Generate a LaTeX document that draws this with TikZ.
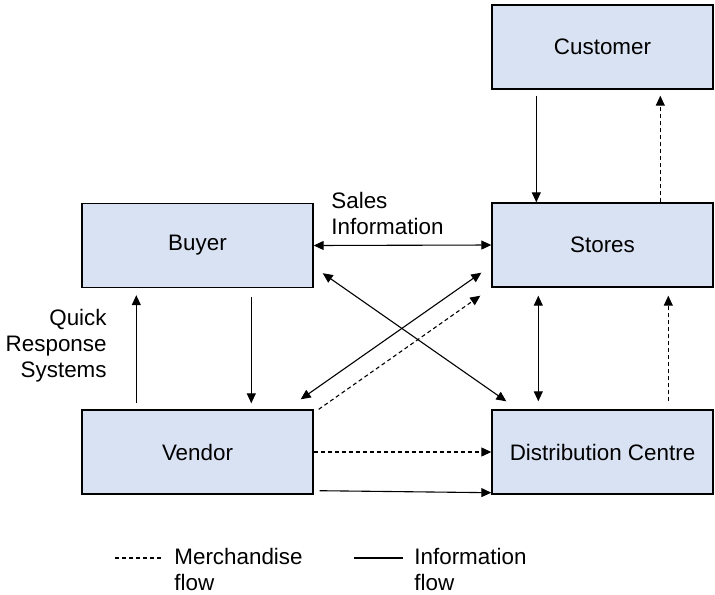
\documentclass[tikz,border=0pt]{standalone}
\usepackage{fontspec}
\setmainfont{Liberation Sans}
\usetikzlibrary{arrows.meta,calc}

\definecolor{boxblue}{HTML}{D9E2F3}

\begin{document}
\begin{tikzpicture}[
    x=0.5pt, y=-0.5pt,
    font=\fontsize{11.2}{13}\selectfont,
    entbox/.style={draw=black, fill=boxblue, line width=0.7pt, minimum height=42pt, inner sep=0pt},
    infoflow/.style={-{Triangle[length=5pt,width=4.5pt]}, line width=0.55pt},
    infoboth/.style={{Triangle[length=5pt,width=4.5pt]}-{Triangle[length=5pt,width=4.5pt]}, line width=0.55pt},
    merchflow/.style={infoflow, dash pattern=on 2pt off 1.5pt},
    lbl/.style={inner sep=0pt}
]
    \useasboundingbox (0,0) rectangle (715,594);

    % Entities
    \node[entbox, minimum width=110.5pt] (cust) at (602.5,47) {Customer};
    \node[entbox, minimum width=110.5pt] (stores) at (602.5,245) {Stores};
    \node[entbox, minimum width=115.5pt] (buyer) at (197.5,245.5) {Buyer};
    \node[entbox, minimum width=115.5pt] (vendor) at (197.5,452) {Vendor};
    \node[entbox, minimum width=110.5pt] (dc) at (602.5,452) {Distribution Centre};

    % Customer <-> Stores
    \draw[infoflow] ([xshift=22.5pt,yshift=-3pt]cust.south west) -- ([xshift=22.5pt]stores.north west);
    \draw[merchflow] ([xshift=84.5pt]stores.north west) -- ([xshift=84.5pt,yshift=-3pt]cust.south west);

    % Buyer, Stores, Distribution Centre
    \draw[infoboth] (buyer.east) -- (stores.west);
    \node[lbl, align=left, anchor=west] (sales) at (331,213) {Sales\\Information};
    \draw[infoboth] ([xshift=4.5pt,yshift=7.5pt]buyer.south east) -- ([xshift=7.5pt,yshift=4pt]dc.north west);
    \draw[infoboth] ([xshift=23.5pt,yshift=-4pt]stores.south west) -- ([xshift=23.5pt,yshift=4pt]dc.north west);
    \draw[merchflow] ([xshift=88.5pt,yshift=4pt]dc.north west) -- ([xshift=88.5pt,yshift=-4pt]stores.south west);

    % Vendor links
    \draw[infoboth] ([xshift=-6.5pt,yshift=5pt]vendor.north east) -- ([xshift=-5pt,yshift=7.5pt]stores.south west);
    \draw[merchflow] ([xshift=2.5pt]vendor.north east) -- ([xshift=-5.5pt,yshift=-4pt]stores.south west);
    \draw[infoflow] ([xshift=27.5pt,yshift=3pt]vendor.north west) -- ([xshift=27.5pt,yshift=-3.5pt]buyer.south west);
    \draw[infoflow] ([xshift=85pt,yshift=-4.5pt]buyer.south west) -- ([xshift=85pt,yshift=3pt]vendor.north west);
    \node[lbl, align=right, anchor=east] (qrs) at (107,346) {Quick\\Response\\Systems};
    \draw[merchflow] (vendor.east) -- (dc.west);
    \draw[infoflow] ([xshift=3pt,yshift=2pt]vendor.south east) -- ([yshift=1pt]dc.south west);

    % Legend
    \coordinate (m1) at (115,558);
    \coordinate (m2) at (163,558);
    \coordinate (i1) at (354,558);
    \coordinate (i2) at (403,558);
    \draw[line width=0.55pt, dash pattern=on 2pt off 1.5pt] (m1) -- (m2);
    \node[lbl, align=left, anchor=west] (mleg) at (174,569) {Merchandise\\flow};
    \draw[line width=0.55pt] (i1) -- (i2);
    \node[lbl, align=left, anchor=west] (ileg) at (414,569) {Information\\flow};

\end{tikzpicture}
\end{document}
